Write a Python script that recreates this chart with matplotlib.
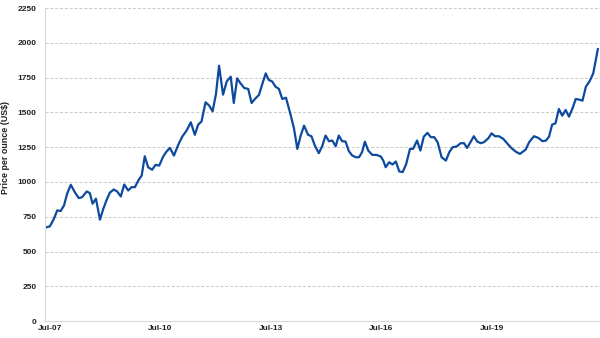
import matplotlib.pyplot as plt

# months since Jul-07 and gold price per ounce (US$)
months = [-1.6, 0.0, 1.3, 2.4, 3.5, 4.6, 5.6, 6.8, 8.1, 9.4, 10.5, 12.0, 13.0, 13.9,
          15.0, 16.3, 17.4, 18.5, 19.5, 20.8, 21.9, 23.1, 24.2, 25.5, 26.6, 27.7,
          28.8, 29.9, 30.9, 32.0, 33.3, 34.4, 35.6, 36.9, 38.0, 39.1, 40.4, 41.8,
          43.1, 44.5, 45.9, 47.2, 48.3, 49.4, 50.7, 51.9, 53.0, 54.1, 55.1, 56.4,
          57.6, 58.9, 59.9, 61.0, 62.1, 63.3, 64.6, 65.7, 66.8, 68.1, 69.2, 70.3,
          71.3, 72.4, 73.5, 74.6, 75.7, 76.9, 78.2, 79.5, 80.6, 81.7, 82.8, 84.1,
          85.2, 86.3, 87.6, 88.7, 89.8, 90.9, 92.0, 93.1, 94.1, 95.2, 96.3, 97.4,
          98.5, 99.6, 100.7, 101.7, 102.6, 103.7, 105.0, 106.4, 107.8, 108.6, 109.4,
          110.5, 111.6, 112.7, 113.8, 114.9, 116.0, 117.3, 118.3, 119.6, 120.7,
          121.8, 123.0, 124.1, 125.2, 126.3, 127.6, 129.0, 130.1, 131.2, 132.5,
          133.8, 134.9, 135.9, 137.0, 138.1, 139.2, 140.3, 141.4, 142.8, 143.9,
          145.0, 146.3, 147.7, 149.1, 150.4, 151.7, 153.1, 155.0, 156.1, 157.7,
          159.1, 160.5, 161.6, 162.6, 163.6, 164.7, 165.8, 166.9, 168.0, 169.1,
          170.3, 171.3, 172.4, 173.5, 174.6, 175.9, 177.0, 178.5]
price = [672, 681, 736, 796, 791, 832, 915, 980, 927, 884, 891, 932, 920, 844,
         880, 729, 808, 872, 923, 946, 932, 896, 982, 939, 963, 963,
         1011, 1047, 1185, 1106, 1088, 1123, 1118, 1183, 1219, 1245, 1190, 1267,
         1326, 1369, 1429, 1339, 1412, 1436, 1573, 1549, 1508, 1633, 1836, 1628,
         1723, 1757, 1568, 1745, 1709, 1676, 1669, 1568, 1597, 1626, 1705, 1781,
         1733, 1723, 1685, 1669, 1597, 1606, 1501, 1386, 1238, 1334, 1405, 1339,
         1329, 1262, 1207, 1257, 1334, 1293, 1298, 1257, 1334, 1293, 1291, 1221,
         1190, 1178, 1178, 1215, 1290, 1226, 1195, 1195, 1183, 1154, 1106,
         1142, 1126, 1147, 1076, 1071, 1124, 1238, 1238, 1298, 1226,
         1326, 1353, 1322, 1322, 1286, 1178, 1154, 1214, 1250, 1255,
         1279, 1279, 1245, 1286, 1329, 1291, 1279, 1286, 1314, 1350,
         1329, 1329, 1310, 1274, 1243, 1219, 1202, 1233, 1286, 1329,
         1317, 1293, 1298, 1326, 1412, 1422, 1525, 1477, 1518, 1470,
         1532, 1597, 1592, 1585, 1685, 1728, 1781, 1955]

tick_months = [0, 36, 72, 108, 144]
tick_labels = ["Jul-07", "Jul-10", "Jul-13", "Jul-16", "Jul-19"]
y_ticks = list(range(0, 2251, 250))

plt.rcParams["font.family"] = ["Liberation Sans", "DejaVu Sans"]

fig = plt.figure(figsize=(6, 3.38), dpi=100)
ax = fig.add_axes([0.075, 0.05, 0.925, 0.926])

ax.plot(months, price, color="#0d4a9e", linewidth=1.6, solid_joinstyle="round")

ax.set_xlim(-1.6, 179.2)
ax.set_ylim(0, 2250)
ax.set_yticks(y_ticks)
ax.set_xticks(tick_months)
ax.set_xticklabels(tick_labels)
ax.grid(axis="y", color="#c8c8c8", linestyle=(0, (3, 2)), linewidth=0.7)
ax.set_axisbelow(True)

for s in ["top", "right"]:
    ax.spines[s].set_visible(False)
for s in ["left", "bottom"]:
    ax.spines[s].set_color("#d9d9d9")
    ax.spines[s].set_linewidth(0.8)

ax.tick_params(axis="both", length=0, labelsize=6, labelcolor="#222222")
ax.tick_params(axis="y", pad=6)
ax.tick_params(axis="x", pad=3)
for lab in ax.get_xticklabels() + ax.get_yticklabels():
    lab.set_fontweight("bold")

ax.set_ylabel("Price per ounce (US$)", fontsize=6.4, fontweight="bold", color="#222222")
ax.yaxis.set_label_coords(-0.063, 0.555)

fig.savefig("out.png", dpi=100)
